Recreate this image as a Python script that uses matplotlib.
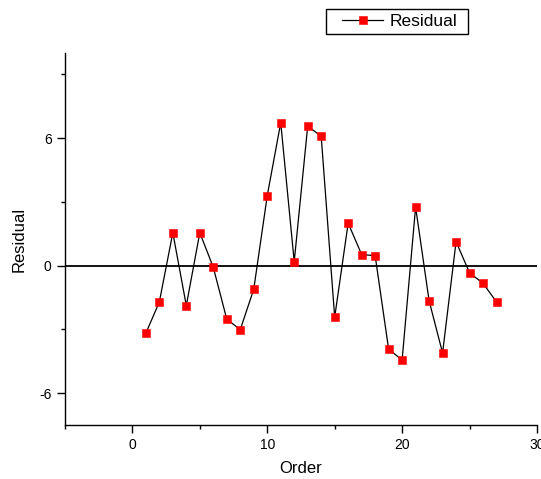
import matplotlib
matplotlib.use("Agg")
import matplotlib.pyplot as plt
from matplotlib.patches import Rectangle
from matplotlib.ticker import MultipleLocator

plt.rcParams['font.family'] = ['Liberation Sans', 'DejaVu Sans']
plt.rcParams['axes.unicode_minus'] = False

# Residuals vs run order
order = list(range(1, 28))
residual = [-3.18, -1.71, 1.55, -1.88, 1.55, -0.08, -2.52, -3.01, -1.11, 3.29,
            6.73, 0.19, 6.57, 6.09, -2.43, 2.00, 0.52, 0.47, -3.93, -4.44,
            2.76, -1.65, -4.11, 1.13, -0.34, -0.83, -1.71]

fig = plt.figure(figsize=(5.41, 4.79), dpi=100)
ax = fig.add_axes([0.120, 0.1127, 0.8726, 0.7763])

ax.plot(order, residual, color='black', linewidth=0.9, marker='s',
        markersize=6.3, markeredgewidth=0.4, markerfacecolor='red',
        markeredgecolor='red', label='Residual', zorder=3)
ax.axhline(0, color='black', linewidth=1.3, zorder=2)

ax.set_xlim(-5, 30)
ax.set_ylim(-7.5, 10)
ax.xaxis.set_major_locator(MultipleLocator(10))
ax.xaxis.set_minor_locator(MultipleLocator(5))
ax.yaxis.set_major_locator(MultipleLocator(6))
ax.yaxis.set_minor_locator(MultipleLocator(3))

ax.spines['top'].set_visible(False)
ax.spines['right'].set_visible(False)
for s in ('left', 'bottom'):
    ax.spines[s].set_linewidth(1.0)
ax.tick_params(which='major', direction='out', length=6, width=1.0, labelsize=10)
ax.tick_params(which='minor', direction='out', length=3, width=1.0)

ax.set_xlabel('Order', fontsize=12, labelpad=6)
ax.set_ylabel('Residual', fontsize=12, labelpad=9)

# legend box (frame drawn separately to get the wide padding)
W, H = 541, 479
fig.patches.append(Rectangle((326 / W, 1 - 34 / H), 142 / W, 25 / H,
                             transform=fig.transFigure, facecolor='white',
                             edgecolor='black', linewidth=1.0))
fig.legend(loc='center left', bbox_to_anchor=(333 / W, 1 - 21.5 / H),
           fontsize=12.5, frameon=False, handlelength=2.4,
           borderpad=0.0, handletextpad=0.35)

fig.savefig('out.png', dpi=100)
